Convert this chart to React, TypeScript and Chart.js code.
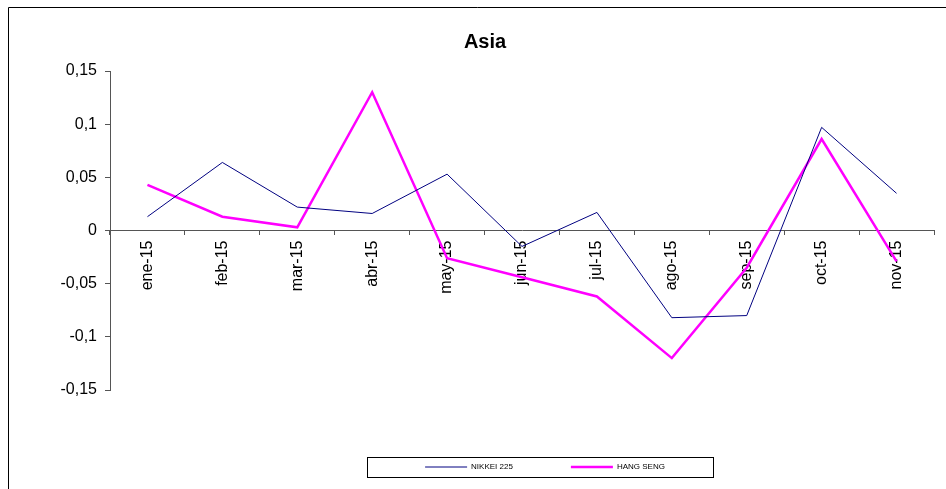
import React, { useEffect, useRef } from 'react';
import { Chart, registerables } from 'chart.js';

Chart.register(...registerables);

const categories = ['ene-15', 'feb-15', 'mar-15', 'abr-15', 'may-15', 'jun-15', 'jul-15', 'ago-15', 'sep-15', 'oct-15', 'nov-15'];
const nikkei225 = [0.013, 0.064, 0.022, 0.016, 0.053, -0.015, 0.017, -0.082, -0.080, 0.097, 0.035];
const hangSeng = [0.043, 0.013, 0.003, 0.130, -0.026, -0.044, -0.062, -0.120, -0.035, 0.086, -0.029];
const seriesNames = ['NIKKEI 225', 'HANG SENG'];
const chartTitle = 'Asia';
const yMin = -0.15;
const yMax = 0.15;
const yStep = 0.05;

const FONT = "'Liberation Sans', Arial, sans-serif";

const fmt = (v: number) => {
  const r = Math.round(v * 100) / 100;
  if (r === 0) return '0';
  return String(r).replace('.', ',');
};

const framePlugin = {
  id: 'frame',
  afterLayout(chart: any) {
    const lg = chart.legend;
    if (lg) {
      lg.left += 23;
      lg.right += 23;
    }
  },
  afterDraw(chart: any) {
    const ctx = chart.ctx;
    ctx.save();
    ctx.strokeStyle = '#000';
    ctx.lineWidth = 1;
    ctx.beginPath();
    ctx.moveTo(8.5, chart.height);
    ctx.lineTo(8.5, 7.5);
    ctx.lineTo(chart.width, 7.5);
    ctx.stroke();
    const lg = chart.legend;
    if (lg && lg.legendHitBoxes && lg.legendHitBoxes.length) {
      const hb = lg.legendHitBoxes[0];
      const cy = hb.top + hb.height / 2;
      const cx = (lg.left + lg.right) / 2;
      ctx.strokeRect(Math.round(cx - 178) + 0.5, Math.round(cy - 10) + 0.5, 346, 20);
    }
    ctx.restore();
  },
};

export default function App() {
  const ref = useRef<HTMLCanvasElement>(null);
  useEffect(() => {
    Chart.defaults.font.family = FONT;
    const chart = new Chart(ref.current as HTMLCanvasElement, {
      type: 'line',
      data: {
        labels: categories,
        datasets: [
          {
            label: seriesNames[0],
            data: nikkei225,
            borderColor: '#000080',
            backgroundColor: '#000080',
            borderWidth: 1,
            pointRadius: 0,
            tension: 0,
            fill: false,
          },
          {
            label: seriesNames[1],
            data: hangSeng,
            borderColor: '#FF00FF',
            backgroundColor: '#FF00FF',
            borderWidth: 2.5,
            pointRadius: 0,
            tension: 0,
            fill: false,
          },
        ],
      },
      options: {
        responsive: false,
        animation: false,
        devicePixelRatio: 1,
        layout: { padding: { left: 36, right: 12, top: 0, bottom: 8 } },
        plugins: {
          title: {
            display: true,
            text: chartTitle,
            color: '#000',
            font: { size: 20, weight: 'bold', family: FONT, lineHeight: 1.2 },
            padding: { top: 30, bottom: 17 },
          },
          legend: {
            display: true,
            position: 'bottom',
            fullSize: false,
            title: { display: true, text: '', padding: { top: 0, bottom: 3 }, font: { size: 10, family: FONT } },
            labels: {
              padding: 58,
              usePointStyle: true,
              pointStyle: 'line',
              pointStyleWidth: 42,
              boxHeight: 8,
              color: '#000',
              font: { size: 8, family: FONT },
            },
          },
          tooltip: { enabled: false },
        },
        scales: {
          x: {
            type: 'category',
            position: { y: 0 } as any,
            offset: true,
            ticks: {
              autoSkip: false,
              minRotation: 90,
              maxRotation: 90,
              padding: 6,
              color: '#000',
              font: { size: 16, family: FONT },
            },
            grid: { offset: true, drawOnChartArea: false, drawTicks: true, tickLength: 4, color: '#555' },
            border: { display: true, color: '#555', width: 1 },
          },
          y: {
            min: yMin,
            max: yMax,
            afterFit: (s: any) => {
              s.width = 74;
            },
            ticks: {
              stepSize: yStep,
              padding: 8,
              color: '#000',
              font: { size: 16, family: FONT },
              callback: (v: any) => fmt(Number(v)),
            },
            grid: { drawOnChartArea: false, drawTicks: true, tickLength: 5, color: '#555' },
            border: { display: true, color: '#555', width: 1 },
          },
        },
      },
      plugins: [framePlugin],
    } as any);
    return () => chart.destroy();
  }, []);
  return (
    <div style={{ position: 'fixed', left: 0, top: 0, width: 946, height: 489, background: '#fff' }}>
      <canvas ref={ref} width={946} height={489} style={{ display: 'block', width: 946, height: 489 }} />
    </div>
  );
}
